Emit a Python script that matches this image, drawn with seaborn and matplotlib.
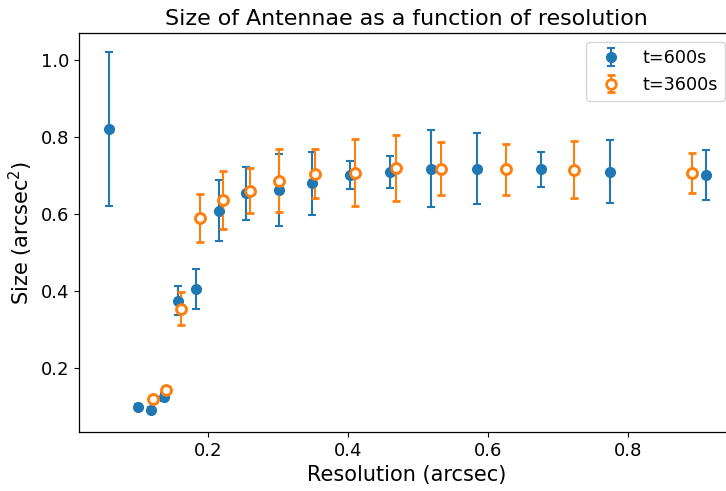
import matplotlib
matplotlib.use("Agg")
import matplotlib.pyplot as plt
import seaborn as sns
import pandas as pd

# t=600s series
res_600 = [0.0586, 0.100, 0.1186, 0.137, 0.157, 0.183, 0.2157, 0.254, 0.301, 0.349,
           0.402, 0.460, 0.519, 0.584, 0.675, 0.774, 0.911]
size_600 = [0.821, 0.099, 0.091, 0.125, 0.375, 0.405, 0.609, 0.654, 0.662, 0.680,
            0.702, 0.709, 0.718, 0.718, 0.716, 0.710, 0.701]
err_600 = [0.200, 0.008, 0.008, 0.010, 0.038, 0.051, 0.079, 0.069, 0.093, 0.082,
           0.036, 0.042, 0.100, 0.093, 0.045, 0.081, 0.064]

# t=3600s series
res_3600 = [0.122, 0.1395, 0.161, 0.189, 0.2214, 0.260, 0.3014, 0.353, 0.4105, 0.4686,
            0.533, 0.625, 0.722, 0.891]
size_3600 = [0.120, 0.144, 0.354, 0.590, 0.636, 0.661, 0.687, 0.705, 0.707, 0.719,
             0.718, 0.716, 0.715, 0.706]
err_3600 = [0.006, 0.010, 0.043, 0.062, 0.075, 0.058, 0.083, 0.064, 0.087, 0.086,
            0.069, 0.067, 0.074, 0.052]

labels = ["t=600s", "t=3600s"]

sns.set_style("ticks", {"axes.edgecolor": "black", "text.color": "black",
                        "axes.labelcolor": "black", "xtick.color": "black",
                        "ytick.color": "black"})
plt.rcParams["font.family"] = ["DejaVu Sans"]
pal = sns.color_palette("tab10")
c1, c2 = pal[0], pal[1]

fig = plt.figure(figsize=(7.26, 4.91), dpi=100)
ax = fig.add_axes([79 / 726, 1 - 432 / 491, 655 / 726, (432 - 33) / 491])

df600 = pd.DataFrame({"res": res_600, "size": size_600})
df3600 = pd.DataFrame({"res": res_3600, "size": size_3600})

ax.errorbar(res_600, size_600, yerr=err_600, fmt="o", color=c1, ms=7,
            capsize=3, elinewidth=1.5, capthick=1.5, label=labels[0], zorder=2)
ax.errorbar(res_3600, size_3600, yerr=err_3600, fmt="o", color=c2, ms=7,
            mfc="white", mec=c2, mew=2, capsize=3, elinewidth=1.5, capthick=1.5,
            label=labels[1], zorder=3)
sns.scatterplot(data=df600, x="res", y="size", ax=ax, color=c1, s=49,
                edgecolor=c1, linewidth=0, legend=False, zorder=4)
sns.scatterplot(data=df3600, x="res", y="size", ax=ax, color="white", s=49,
                edgecolor=c2, linewidth=2, legend=False, zorder=5)

ax.set_xlim(0.0157, 0.951)
ax.set_ylim(0.034, 1.070)
ax.set_xticks([0.2, 0.4, 0.6, 0.8])
ax.set_yticks([0.2, 0.4, 0.6, 0.8, 1.0])
ax.tick_params(labelsize=13, length=3.5, width=0.8)
for s in ax.spines.values():
    s.set_color("black")
    s.set_linewidth(0.9)

ax.set_xlabel("Resolution (arcsec)", fontsize=15)
ax.set_ylabel("Size (arcsec$^2$)", fontsize=15)
ax.set_title("Size of Antennae as a function of resolution", fontsize=15.9)
ax.legend(loc="upper right", fontsize=12.7)

fig.savefig("out.png", dpi=100)
